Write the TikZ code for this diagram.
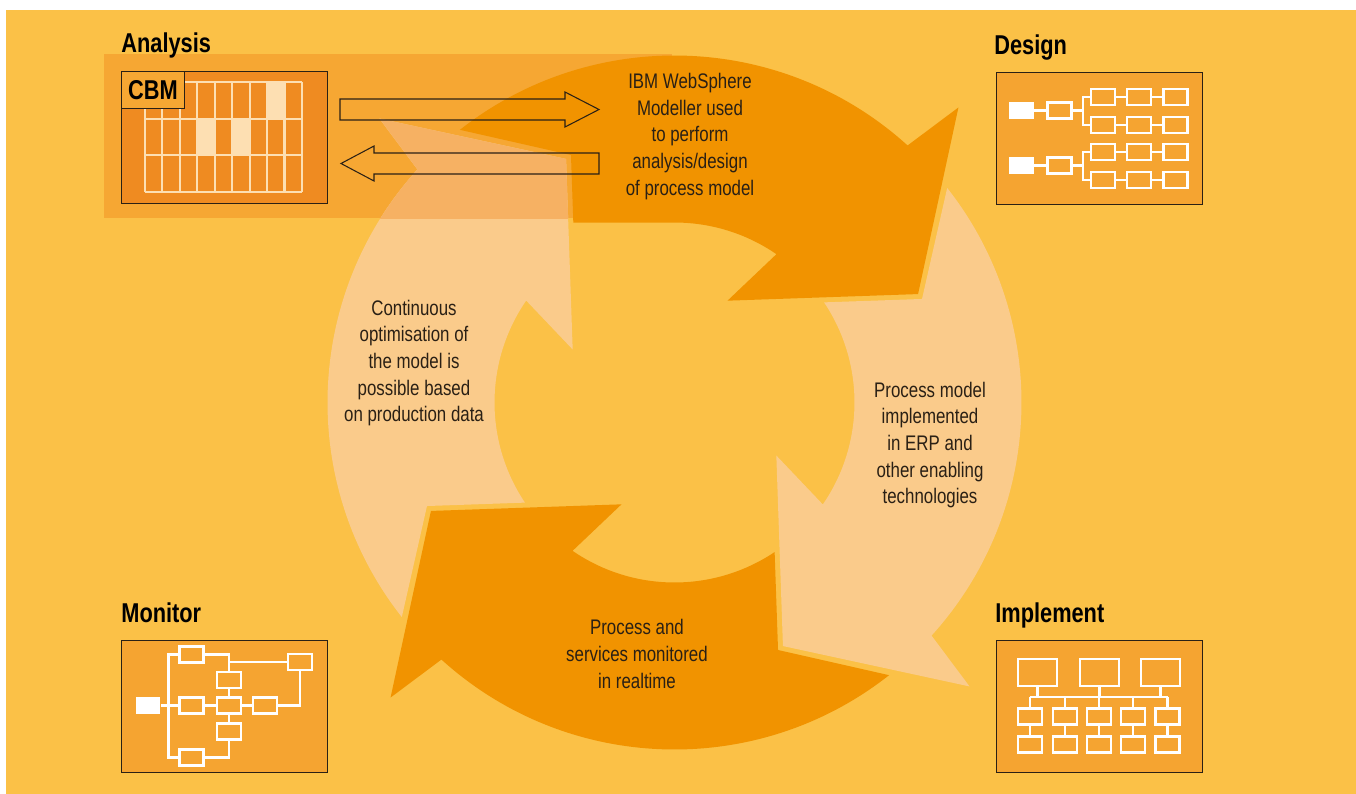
\documentclass[tikz,border=0pt]{standalone}
\usepackage{fontspec}
\setmainfont{Liberation Sans}[FakeStretch=0.8]
\usetikzlibrary{calc}
\definecolor{bgyellow}{HTML}{FBC147}
\definecolor{bandorange}{HTML}{F6A733}
\definecolor{darkarr}{HTML}{F19300}
\definecolor{lightarr}{HTML}{FACB8B}
\definecolor{lightband}{HTML}{F6B163}
\definecolor{panelfill}{HTML}{F5A431}
\definecolor{cbmfill}{HTML}{EF8B21}
\definecolor{gridcol}{HTML}{FDDFB2}
\definecolor{inkline}{HTML}{2A2015}
\newcommand{\cycleshape}{(128.2:347) arc[start angle=128.2, end angle=47.8, radius=347] -- (46.1:409.5) -- (24.0:266.6) -- (62.5:114.8) -- (55.5:180) arc[start angle=55.5, end angle=123.8, radius=180] -- (112.7:268.3) -- cycle}

\begin{document}
\begin{tikzpicture}[x=0.02cm, y=-0.02cm]
	\tikzstyle{panel} = [draw=inkline, line width=0.6pt, fill=panelfill, minimum width=4.12cm, minimum height=2.64cm, anchor=north west, inner sep=0pt]
	\tikzstyle{heading} = [anchor=base west, inner sep=0pt, font=\fontsize{15.5}{18}\selectfont\bfseries]
	\tikzstyle{desc} = [align=center, inner sep=0pt, text=inkline, font=\fontsize{12}{15.2}\selectfont]
	\tikzstyle{cell} = [draw=white, line width=1.3pt, minimum width=0.48cm, minimum height=0.32cm, inner sep=0pt]
	\tikzstyle{bigcell} = [cell, minimum width=0.78cm, minimum height=0.54cm]
	\tikzstyle{srccell} = [fill=white, minimum width=0.5cm, minimum height=0.34cm, inner sep=0pt]
	\tikzstyle{wire} = [draw=white, line width=1.3pt]
	\tikzstyle{gridline} = [draw=gridcol, line width=1.2pt]
	\tikzstyle{hollow} = [draw=inkline, line width=0.6pt, line join=miter]
	\useasboundingbox (0,0) rectangle (1356,794);
	\fill[white] (0,0) rectangle (1356,794);
	\fill[bgyellow] (6,10) rectangle (1356,794);
	\fill[bandorange] (104,54) rectangle (672,218);
	\foreach \k in {1,3}
		\fill[lightarr, shift={(674.5,402.5)}, rotate=-90*\k, yscale=-1] \cycleshape;
	\begin{scope}
		\clip (104,54) rectangle (672,218);
		\fill[lightband, shift={(674.5,402.5)}, rotate=90, yscale=-1] \cycleshape;
	\end{scope}
	\begin{scope}
		\clip (0,0) -- (1356,0) -- (1356,794) -- (674.5,794) -- (674.5,222.5) -- (0,222.5) -- cycle;
		\fill[darkarr, shift={(674.5,402.5)}, yscale=-1] \cycleshape;
	\end{scope}
	\fill[darkarr, shift={(674.5,402.5)}, rotate=-180, yscale=-1] \cycleshape;
	\node[heading] (analysislbl) at (121,53) {Analysis};
	\node[heading] (designlbl) at (994,55) {Design};
	\node[heading] (monitorlbl) at (121,622) {Monitor};
	\node[heading] (implementlbl) at (995,622) {Implement};
	\node[panel, fill=cbmfill] (analysis) at (121,71) {};
	\fill[gridcol] (267.1,82) rectangle (284.6,118.7);
	\fill[gridcol] (197.3,118.7) rectangle (214.8,155.3);
	\fill[gridcol] (232.2,118.7) rectangle (249.6,155.3);
	\foreach \i in {0,...,9}
		\draw[gridline] (145+\i*17.44,82) -- (145+\i*17.44,192);
	\foreach \j in {0,...,3}
		\draw[gridline] (145,82+\j*36.67) -- (302,82+\j*36.67);
	\node[draw=inkline, line width=0.6pt, fill=bandorange, minimum width=1.26cm, minimum height=0.74cm, inner sep=0pt, anchor=north west, font=\fontsize{15.5}{18}\selectfont\bfseries] (cbm) at (121,71) {CBM};
	\node[panel] (design) at (996,72) {};
	\foreach \g/\yy/\ya/\yb in {1/110.5/97/125, 2/165.5/152/180}{
		\node[srccell] (ds\g) at (1021.5,\yy) {};
		\node[cell] (db\g) at (1059.5,\yy) {};
		\draw[wire] (ds\g) -- (db\g);
		\foreach \r/\ry in {1/\ya, 2/\yb}{
			\foreach \c/\xx in {1/1103, 2/1139, 3/1175.5}
				\node[cell] (dr\g\r\c) at (\xx,\ry) {};
			\draw[wire] (db\g.east) -- +(10,0) |- (dr\g\r1.west);
			\draw[wire] (dr\g\r1) -- (dr\g\r2) -- (dr\g\r3);
		}
	}
	\node[panel] (monitor) at (121,640) {};
	\node[srccell] (mosrc) at (148,705.5) {};
	\node[cell] (motop) at (191.5,654.5) {};
	\node[cell] (moleft) at (191.5,705.5) {};
	\node[cell] (mobot) at (191.5,757.5) {};
	\node[cell] (moup) at (229,680) {};
	\node[cell] (mocen) at (229,705.5) {};
	\node[cell] (modown) at (229,731.5) {};
	\node[cell] (moright) at (265,705.5) {};
	\node[cell] (mofar) at (300,662) {};
	\draw[wire] (mosrc) -- (moleft);
	\draw[wire] (motop.west) -- +(-10,0) |- (mobot.west);
	\draw[wire] (moleft) -- (mocen);
	\draw[wire] (mocen) -- (moright);
	\draw[wire] (motop.east) -| (moup.north);
	\draw[wire] (moup.north) |- (mofar.west);
	\draw[wire] (moup) -- (mocen);
	\draw[wire] (mocen) -- (modown);
	\draw[wire] (modown.south) |- (mobot.east);
	\draw[wire] (moright.east) -| (mofar.south);
	\node[panel] (implement) at (996,640) {};
	\coordinate (bus) at (1030,697);
	\foreach \i/\xx in {1/1037.5, 2/1099.5, 3/1160.5}{
		\node[bigcell] (imtop\i) at (\xx,672.5) {};
		\draw[wire] (imtop\i.south) -- (imtop\i.south |- bus);
	}
	\foreach \i/\xx in {1/1030, 2/1065, 3/1099, 4/1133, 5/1167.5}{
		\node[cell] (immid\i) at (\xx,716.5) {};
		\node[cell] (imbot\i) at (\xx,744.5) {};
		\draw[wire] (immid\i) -- (imbot\i);
		\draw[wire] (immid\i.north) -- (immid\i.north |- bus);
	}
	\draw[wire] (immid1.north |- bus) -- (immid5.north |- bus);
	\node[desc] (modeltext) at (690,136.5) {IBM WebSphere\\Modeller used\\to perform\\analysis/design\\of process model};
	\node[desc] (implementtext) at (930,445) {Process model\\implemented\\in ERP and\\other enabling\\technologies};
	\node[desc] (monitortext) at (637,654) {Process and\\services monitored\\in realtime};
	\node[desc] (optimisetext) at (414,363) {Continuous\\optimisation of\\the model is\\possible based\\on production data};
	\draw[hollow] (340,99) -- (565,99) -- (565,92) -- (599,109.5) -- (565,127) -- (565,120) -- (340,120) -- cycle;
	\draw[hollow] (599,153) -- (374,153) -- (374,146) -- (341,163.5) -- (374,181) -- (374,174) -- (599,174) -- cycle;
\end{tikzpicture}
\end{document}
